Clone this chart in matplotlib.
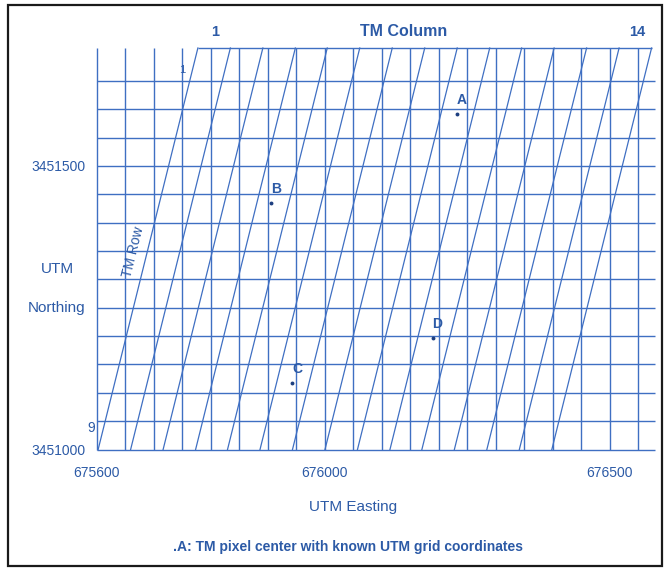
import matplotlib
matplotlib.use('Agg')
import matplotlib.pyplot as plt
from matplotlib.patches import Rectangle

# ---------------- data ----------------
easting_lines = [675600, 675650, 675700, 675750, 675800, 675850, 675900, 675950,
                 676000, 676050, 676100, 676150, 676200, 676250, 676300, 676350,
                 676400, 676450, 676500, 676550]
northing_lines = [3451000, 3451050, 3451100, 3451150, 3451200, 3451250, 3451300,
                  3451350, 3451400, 3451450, 3451500, 3451550, 3451600, 3451650]
grid_bottom = 3451000
grid_top = 3451708
grid_left = 675600
grid_right = 676579

# TM column lines (slanted): easting where each meets bottom and top of grid
col_bottom = [675602, 675659, 675716, 675773, 675829, 675886, 675943, 676000,
              676057, 676114, 676170, 676227, 676284, 676341, 676398]
col_top = [675777, 675834, 675891, 675948, 676004, 676061, 676118, 676175,
           676232, 676289, 676345, 676402, 676459, 676516, 676573]

x_ticks = [675600, 676000, 676500]
y_ticks = [3451000, 3451500]

point_names = ['A', 'B', 'C', 'D']
point_e = [676232, 675905, 675943, 676189]
point_n = [3451591, 3451434, 3451118, 3451197]

# ---------------- style ----------------
LINE = '#3f6fc2'
TEXT = '#2c5aa6'
W, H = 665, 568

plt.rcParams['font.family'] = ['Liberation Sans', 'DejaVu Sans']

fig = plt.figure(figsize=(W / 100, H / 100), dpi=100)
fig.patch.set_facecolor('white')


def fx(px):
    return px / W


def fy(py):
    return 1 - py / H


ax = fig.add_axes([fx(97), fy(449.5), 558 / W, 401.5 / H])
ax.set_xlim(grid_left, grid_right)
ax.set_ylim(grid_bottom, grid_top)
ax.set_facecolor('none')
for s in ax.spines.values():
    s.set_visible(False)

lw = 1.0
ax.vlines(easting_lines, grid_bottom, grid_top, colors=LINE, lw=lw, clip_on=False)
ax.hlines(northing_lines, grid_left, grid_right, colors=LINE, lw=lw, clip_on=False)
ax.hlines([grid_top], col_top[0], col_top[-1], colors=LINE, lw=lw, clip_on=False)
for b, t in zip(col_bottom, col_top):
    ax.plot([b, t], [grid_bottom, grid_top], color=LINE, lw=0.9, clip_on=False)

ax.plot(point_e, point_n, 'o', color='#1d3f80', ms=2.8, mec='none', clip_on=False)
for name, e, n in zip(point_names, point_e, point_n):
    ax.annotate(name, (e, n), xytext=(3.5, 10), textcoords='offset points',
                ha='center', va='center', color=TEXT, fontsize=10,
                fontweight='bold')

ax.set_xticks(x_ticks)
ax.set_xticklabels([str(v) for v in x_ticks])
ax.set_yticks(y_ticks)
ax.set_yticklabels([str(v) for v in y_ticks])
ax.tick_params(axis='x', length=0, pad=12, labelsize=10, labelcolor=TEXT)
ax.tick_params(axis='y', length=0, pad=8.5, labelsize=10, labelcolor=TEXT)

# axis titles and annotations
fig.text(fx(404), fy(31.7), 'TM Column', ha='center', va='center',
         color=TEXT, fontsize=11.5, fontweight='bold')
fig.text(fx(215.5), fy(31.7), '1', ha='center', va='center',
         color=TEXT, fontsize=10.5, fontweight='bold')
fig.text(fx(637), fy(32.5), '14', ha='center', va='center',
         color=TEXT, fontsize=10.5, fontweight='bold')
fig.text(fx(353), fy(506.5), 'UTM Easting', ha='center', va='center',
         color=TEXT, fontsize=11)
fig.text(fx(57), fy(269), 'UTM', ha='center', va='center',
         color=TEXT, fontsize=11)
fig.text(fx(57), fy(308), 'Northing', ha='center', va='center',
         color=TEXT, fontsize=11)
fig.text(fx(133), fy(252), 'TM Row', ha='center', va='center', rotation=76,
         color=TEXT, fontsize=10)
fig.text(fx(182.5), fy(70), '1', ha='center', va='center',
         color=TEXT, fontsize=8)
fig.text(fx(91.5), fy(428), '9', ha='center', va='center',
         color=TEXT, fontsize=10)
fig.text(fx(348), fy(546.5), '.A: TM pixel center with known UTM grid coordinates',
         ha='center', va='center', color=TEXT, fontsize=10, fontweight='bold')

# scanned figure frame
fig.patches.append(Rectangle((fx(8), fy(566)), (662 - 8) / W, (566 - 5) / H,
                             transform=fig.transFigure, fill=False,
                             edgecolor='#1a1a1a', lw=1.6))

fig.savefig('out.png', dpi=100, facecolor='white')
